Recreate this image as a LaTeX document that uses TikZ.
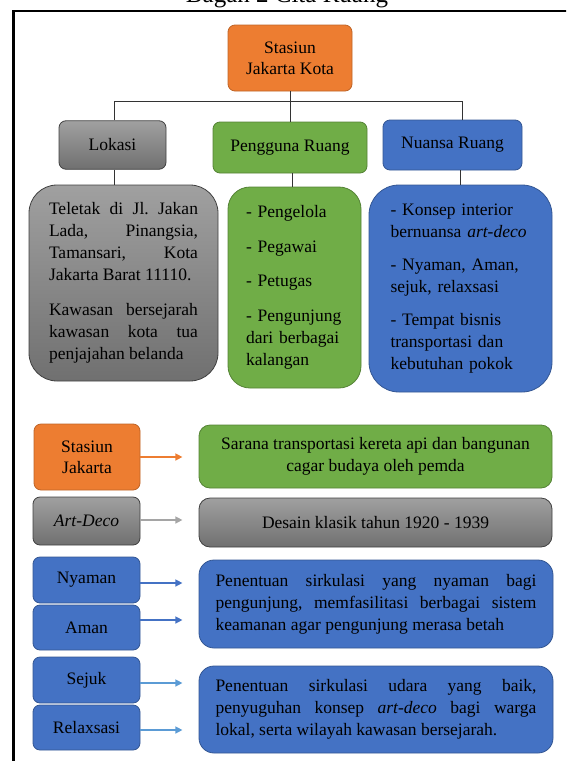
\documentclass[tikz,border=0pt]{standalone}
\usepackage{fontspec}
\setmainfont{Liberation Serif}
\usetikzlibrary{arrows.meta}
\definecolor{oranye}{RGB}{237,125,49}
\definecolor{hijau}{RGB}{112,173,71}
\definecolor{biru}{RGB}{68,114,196}
\definecolor{biruMuda}{RGB}{91,155,213}
\definecolor{abuAtas}{RGB}{160,160,160}
\definecolor{abuBawah}{RGB}{112,112,112}
\definecolor{abuPanah}{RGB}{165,165,165}
\frenchspacing

\tikzset{
  kotak/.style={draw, line width=0.8pt, rounded corners=7pt, align=center, inner sep=0pt,
                font=\fontsize{17.5}{21}\selectfont},
  kotakOranye/.style={kotak, fill=oranye, draw=oranye!80!black},
  kotakHijau/.style={kotak, fill=hijau, draw=hijau!75!black},
  kotakBiru/.style={kotak, fill=biru, draw=biru!75!black},
  kotakAbu/.style={kotak, top color=abuAtas, bottom color=abuBawah, draw=black!75},
  isi/.style={font=\fontsize{17.5}{22}\selectfont\sloppy},
  garis/.style={draw=black!80, line width=0.8pt},
  panah/.style={line width=1.4pt, -{Triangle[length=7pt,width=7pt]}}
}

\begin{document}
\begin{tikzpicture}[x=1pt, y=-1pt]
  \useasboundingbox (0,0) rectangle (566,761);
  \begin{scope}
    \clip (0,0) rectangle (566,761);
    \node[font=\fontsize{25}{28}\selectfont, anchor=base] (judul) at (287,2) {Bagan 2 Cita Ruang};
    \draw[line width=2.2pt] (13.5,11) rectangle (620,820);
  \end{scope}

  % bagan atas
  \node[kotakOranye, minimum width=124pt, minimum height=66pt] (stasiun) at (290,58) {Stasiun\\Jakarta Kota};
  \node[kotakAbu, minimum width=107pt, minimum height=48.5pt] (lokasi) at (112.5,145) {Lokasi};
  \node[kotakHijau, minimum width=154pt, minimum height=51pt] (pengguna) at (290,147.5) {Pengguna Ruang};
  \node[kotakBiru, minimum width=139pt, minimum height=50pt] (nuansa) at (452.5,145) {Nuansa Ruang};
  \coordinate (cabang) at (290,101.5);

  \node[kotakAbu, isi, rounded corners=28pt, text width=149pt, align=justify,
        minimum width=189pt, minimum height=196pt] (lokasiIsi) at (123.5,283) {%
    Teletak di Jl. Jakan\linebreak Lada, Pinangsia,\linebreak Tamansari, Kota\linebreak Jakarta Barat 11110.\par
    \vspace{13pt}Kawasan bersejarah\linebreak kawasan kota tua\linebreak penjajahan belanda};
  \node[kotakHijau, isi, rounded corners=22pt, text width=97pt, align=left,
        minimum width=133pt, minimum height=201pt] (penggunaIsi) at (294.5,287.5) {%
    - Pengelola\\[12.5pt]- Pegawai\\[12.5pt]- Petugas\\[12.5pt]- Pengunjung\\dari berbagai\\kalangan};
  \node[kotakBiru, isi, rounded corners=30pt, text width=140pt, align=left,
        minimum width=183pt, minimum height=207pt] (nuansaIsi) at (460.5,288.5) {%
    - Konsep interior\\bernuansa \textit{art-deco}\\[11pt]- Nyaman, Aman,\\sejuk, relaxsasi\\[11pt]%
    - Tempat bisnis\\transportasi dan\\kebutuhan pokok};

  \draw[garis] (stasiun.south) -- (pengguna.north);
  \draw[garis] ([xshift=1.5pt]lokasi.north) |- (cabang) -| ([xshift=9.5pt]nuansa.north);
  \draw[garis] ([xshift=1.5pt]lokasi.south) -- ([xshift=1.5pt]lokasi.south |- lokasiIsi.north);
  \draw[garis] ([xshift=2pt]pengguna.south) -- ([xshift=2pt]pengguna.south |- penggunaIsi.north);
  \draw[garis] ([xshift=7.5pt]nuansa.south) -- ([xshift=7.5pt]nuansa.south |- nuansaIsi.north);

  % keterangan bawah
  \node[kotakOranye, minimum width=106pt, minimum height=66pt] (sj) at (87,457) {Stasiun\\Jakarta};
  \node[kotakAbu, minimum width=107pt, minimum height=48pt] (artdeco) at (86.5,521) {\textit{Art-Deco}};
  \node[kotakBiru, minimum width=107pt, minimum height=46pt] (nyaman) at (86.5,580) {Nyaman};
  \node[kotakBiru, minimum width=107pt, minimum height=45pt] (aman) at (86.5,627.5) {Aman};
  \node[kotakBiru, minimum width=107pt, minimum height=46pt] (sejuk) at (86.5,680) {Sejuk};
  \node[kotakBiru, minimum width=107pt, minimum height=45pt] (relax) at (86.5,727.5) {Relaxsasi};

  \node[kotakHijau, isi, rounded corners=11pt, minimum width=353pt, minimum height=63pt] (desk1) at (375.5,456.5)
    {Sarana transportasi kereta api dan bangunan\\cagar budaya oleh pemda};
  \node[kotakAbu, isi, rounded corners=11pt, minimum width=353pt, minimum height=49pt] (desk2) at (375.5,522.5)
    {Desain klasik tahun 1920 - 1939};
  \node[kotakBiru, isi, rounded corners=15pt, text width=321pt, align=justify,
        minimum width=354pt, minimum height=88pt] (desk3) at (376,604) {%
    Penentuan sirkulasi yang nyaman bagi\linebreak pengunjung, memfasilitasi berbagai sistem\linebreak
    keamanan agar pengunjung merasa betah};
  \node[kotakBiru, isi, rounded corners=15pt, text width=321pt, align=justify,
        minimum width=354pt, minimum height=87pt] (desk4) at (376,709.5) {%
    Penentuan sirkulasi udara yang baik,\linebreak penyuguhan konsep \textit{art-deco} bagi warga\linebreak
    lokal, serta wilayah kawasan bersejarah.};

  \foreach \kiri/\warna/\geser in {sj/oranye/0, artdeco/abuPanah/1, nyaman/biru/-3,
                                   aman/biru/7.5, sejuk/biruMuda/-3, relax/biruMuda/-2.5}
    \draw[panah, \warna] ([yshift=\geser pt]\kiri.east) -- ++(42,0);
\end{tikzpicture}
\end{document}
